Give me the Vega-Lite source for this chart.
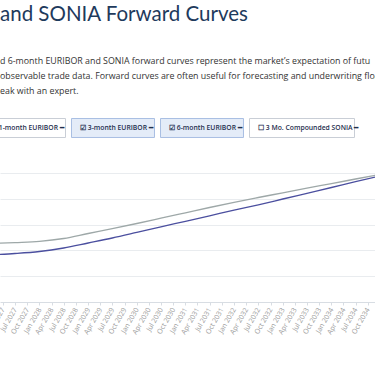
{
  "$schema": "https://vega.github.io/schema/vega-lite/v6.json",
  "autosize": "none",
  "width": 375,
  "height": 129,
  "padding": {"top": 173, "left": 0, "right": 0, "bottom": 64},
  "background": "#ffffff",
  "config": {
    "view": {"stroke": null},
    "font": "Open Sans"
  },
  "title": {
    "text": "and SONIA Forward Curves",
    "subtitle": [
      "d 6-month EURIBOR and SONIA forward curves represent the market’s expectation of futu",
      "observable trade data. Forward curves are often useful for forecasting and underwriting floa",
      "eak with an expert."
    ],
    "anchor": "start",
    "frame": "group",
    "orient": "top",
    "offset": -10,
    "font": "Lato",
    "fontSize": 20.5,
    "fontWeight": 400,
    "color": "#1e3a5c",
    "subtitleFont": "Open Sans",
    "subtitleFontSize": 8.85,
    "subtitleColor": "#333333",
    "subtitleLineHeight": 15,
    "subtitlePadding": 31
  },
  "datasets": {
    "curves": [
      {"date": "2027-01-01", "series": "3-month EURIBOR", "rate": 1.829},
      {"date": "2027-07-01", "series": "3-month EURIBOR", "rate": 1.880},
      {"date": "2028-01-01", "series": "3-month EURIBOR", "rate": 1.957},
      {"date": "2028-07-01", "series": "3-month EURIBOR", "rate": 2.093},
      {"date": "2029-01-01", "series": "3-month EURIBOR", "rate": 2.287},
      {"date": "2029-07-01", "series": "3-month EURIBOR", "rate": 2.481},
      {"date": "2030-01-01", "series": "3-month EURIBOR", "rate": 2.698},
      {"date": "2030-07-01", "series": "3-month EURIBOR", "rate": 2.915},
      {"date": "2031-01-01", "series": "3-month EURIBOR", "rate": 3.128},
      {"date": "2031-07-01", "series": "3-month EURIBOR", "rate": 3.341},
      {"date": "2032-01-01", "series": "3-month EURIBOR", "rate": 3.562},
      {"date": "2032-07-01", "series": "3-month EURIBOR", "rate": 3.767},
      {"date": "2033-01-01", "series": "3-month EURIBOR", "rate": 3.992},
      {"date": "2033-07-01", "series": "3-month EURIBOR", "rate": 4.213},
      {"date": "2034-01-01", "series": "3-month EURIBOR", "rate": 4.438},
      {"date": "2034-07-01", "series": "3-month EURIBOR", "rate": 4.663},
      {"date": "2035-01-01", "series": "3-month EURIBOR", "rate": 4.884},
      {"date": "2027-01-01", "series": "6-month EURIBOR", "rate": 2.264},
      {"date": "2027-07-01", "series": "6-month EURIBOR", "rate": 2.302},
      {"date": "2028-01-01", "series": "6-month EURIBOR", "rate": 2.349},
      {"date": "2028-07-01", "series": "6-month EURIBOR", "rate": 2.461},
      {"date": "2029-01-01", "series": "6-month EURIBOR", "rate": 2.655},
      {"date": "2029-07-01", "series": "6-month EURIBOR", "rate": 2.841},
      {"date": "2030-01-01", "series": "6-month EURIBOR", "rate": 3.043},
      {"date": "2030-07-01", "series": "6-month EURIBOR", "rate": 3.248},
      {"date": "2031-01-01", "series": "6-month EURIBOR", "rate": 3.457},
      {"date": "2031-07-01", "series": "6-month EURIBOR", "rate": 3.663},
      {"date": "2032-01-01", "series": "6-month EURIBOR", "rate": 3.864},
      {"date": "2032-07-01", "series": "6-month EURIBOR", "rate": 4.050},
      {"date": "2033-01-01", "series": "6-month EURIBOR", "rate": 4.233},
      {"date": "2033-07-01", "series": "6-month EURIBOR", "rate": 4.415},
      {"date": "2034-01-01", "series": "6-month EURIBOR", "rate": 4.589},
      {"date": "2034-07-01", "series": "6-month EURIBOR", "rate": 4.767},
      {"date": "2035-01-01", "series": "6-month EURIBOR", "rate": 4.946}
    ],
    "series": [
      {"series": "1-month EURIBOR"},
      {"series": "3-month EURIBOR"},
      {"series": "6-month EURIBOR"},
      {"series": "3 Mo. Compounded SONIA"}
    ]
  },
  "layer": [
    {
      "data": {"name": "curves"},
      "mark": {"type": "line", "clip": true, "strokeWidth": 1.3, "interpolate": "monotone"},
      "encoding": {
        "x": {
          "field": "date",
          "type": "temporal",
          "scale": {"type": "utc", "domain": [{"year": 2027, "month": 3, "date": 11, "utc": true}, {"year": 2034, "month": 11, "date": 24, "utc": true}]},
          "axis": {
            "title": null,
            "format": "%b %Y",
            "tickCount": {"interval": "month", "step": 3},
            "labelOverlap": false,
            "labelAngle": -60,
            "labelAlign": "right",
            "labelBaseline": "middle",
            "labelFontSize": 7,
            "labelColor": "#9a9a9a",
            "labelPadding": 3,
            "tickSize": 3,
            "tickColor": "#d8dde3",
            "domainColor": "#d8dde3",
            "grid": false
          }
        },
        "y": {
          "field": "rate",
          "type": "quantitative",
          "scale": {"domain": [0, 5], "nice": false, "zero": false},
          "axis": {
            "title": null,
            "labels": false,
            "ticks": false,
            "domain": false,
            "grid": true,
            "gridColor": "#e9ecef",
            "values": [1, 2, 3, 4, 5]
          }
        },
        "color": {
          "field": "series",
          "type": "nominal",
          "scale": {"domain": ["3-month EURIBOR", "6-month EURIBOR"], "range": ["#4b4f9f", "#9ea8a8"]},
          "legend": null
        }
      }
    },
    {
      "data": {"name": "series"},
      "mark": {"type": "point", "opacity": 0, "filled": true},
      "encoding": {
        "shape": {
          "field": "series",
          "type": "nominal",
          "scale": {
            "domain": ["1-month EURIBOR", "3-month EURIBOR", "6-month EURIBOR", "3 Mo. Compounded SONIA"],
            "range": ["M-1,-0.226H0.976V0.226H-1Z", "M-1,-0.226H0.976V0.226H-1Z", "M-1,-0.226H0.976V0.226H-1Z", "M-1,-0.226H1.5V0.226H-1Z"]
          },
          "legend": {
            "orient": "none",
            "legendX": -18,
            "legendY": -87.5,
            "direction": "horizontal",
            "columns": 4,
            "columnPadding": 1,
            "padding": 0,
            "title": null,
            "symbolSize": 7056,
            "symbolStrokeWidth": 1,
            "symbolOpacity": 1,
            "labelOffset": -76,
            "labelFont": "Open Sans",
            "labelFontSize": 6.8,
            "labelFontWeight": 600,
            "labelColor": "#1f2f4f",
            "labelLimit": 0,
            "labelExpr": "(datum.label == '3-month EURIBOR' || datum.label == '6-month EURIBOR' ? '☑ ' : '☐ ') + datum.label + '  ━'"
          }
        },
        "fill": {
          "field": "series",
          "type": "nominal",
          "scale": {
            "domain": ["1-month EURIBOR", "3-month EURIBOR", "6-month EURIBOR", "3 Mo. Compounded SONIA"],
            "range": ["#ffffff", "#e4ecf8", "#e4ecf8", "#ffffff"]
          }
        },
        "stroke": {
          "field": "series",
          "type": "nominal",
          "scale": {
            "domain": ["1-month EURIBOR", "3-month EURIBOR", "6-month EURIBOR", "3 Mo. Compounded SONIA"],
            "range": ["#c9ced6", "#a9bfe3", "#a9bfe3", "#c9ced6"]
          }
        }
      }
    }
  ]
}
